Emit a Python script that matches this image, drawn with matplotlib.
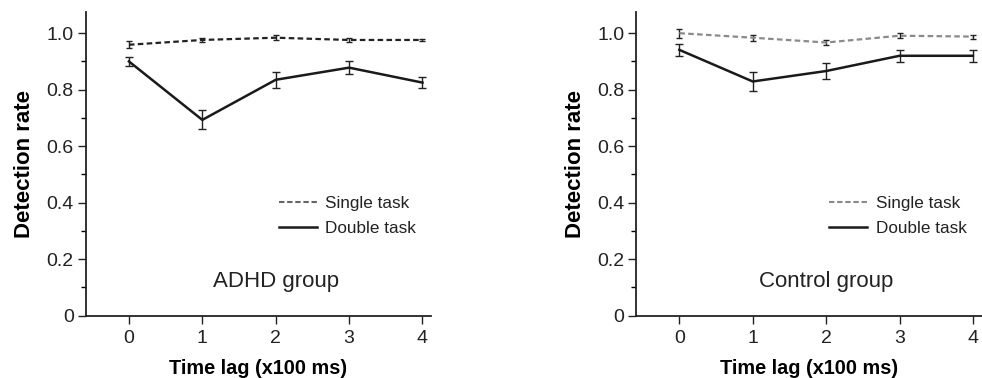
import numpy as np
import matplotlib.pyplot as plt
from matplotlib.lines import Line2D

plt.rcParams['font.family'] = ['Liberation Sans', 'DejaVu Sans']

# ---- data ----
lags = [0, 1, 2, 3, 4]

adhd_single = [0.959, 0.976, 0.984, 0.976, 0.976]
adhd_single_err = [0.013, 0.008, 0.008, 0.006, 0.005]
adhd_double = [0.900, 0.693, 0.835, 0.878, 0.825]
adhd_double_err = [0.015, 0.034, 0.028, 0.023, 0.020]

ctrl_single = [1.000, 0.984, 0.967, 0.991, 0.988]
ctrl_single_err = [0.016, 0.011, 0.010, 0.008, 0.007]
ctrl_double = [0.941, 0.829, 0.866, 0.920, 0.920]
ctrl_double_err = [0.021, 0.032, 0.027, 0.022, 0.021]

yticks = [0, 0.2, 0.4, 0.6, 0.8, 1.0]
yticklabels = ['0', '0.2', '0.4', '0.6', '0.8', '1.0']

fig = plt.figure(figsize=(9.82, 3.78), dpi=100)
ax1 = fig.add_axes([0.0872, 0.165, 0.352, 0.804])
ax2 = fig.add_axes([0.6477, 0.165, 0.352, 0.804])

panels = [
    (ax1, adhd_single, adhd_single_err, adhd_double, adhd_double_err, '#222222', '#666666', 'ADHD group'),
    (ax2, ctrl_single, ctrl_single_err, ctrl_double, ctrl_double_err, '#8a8a8a', '#8a8a8a', 'Control group'),
]

dash = (0, (2.5, 1.5))

for ax, s, se, d, de, scol, lcol, title in panels:
    ax.errorbar(lags, s, yerr=se, color=scol, ls=dash, lw=1.6,
                capsize=2.0, elinewidth=1.0, ecolor='#222222', capthick=1.0)
    ax.errorbar(lags, d, yerr=de, color='#1a1a1a', ls='-', lw=1.8,
                capsize=3, elinewidth=1.0, ecolor='#222222', capthick=1.0)

    ax.set_xlim(-0.59, 4.12)
    ax.set_ylim(0, 1.076)
    ax.set_xticks(lags)
    ax.set_yticks(yticks)
    ax.set_yticklabels(yticklabels)
    ax.set_yticks([0.1, 0.3, 0.5, 0.7, 0.9], minor=True)
    ax.tick_params(axis='both', which='major', direction='out', length=5.5,
                   width=1.0, labelsize=14, pad=3, color='#222222', labelcolor='#222222')
    ax.tick_params(axis='x', which='major', pad=4.5)
    ax.tick_params(axis='y', which='minor', direction='out', length=3.6, width=1.0)
    for sp in ['top', 'right']:
        ax.spines[sp].set_visible(False)
    for sp in ['left', 'bottom']:
        ax.spines[sp].set_linewidth(1.3)
        ax.spines[sp].set_color('#222222')

    ax.set_xlabel('Time lag (x100 ms)', fontsize=14.3, fontweight='bold', labelpad=9)
    ax.set_ylabel('Detection rate', fontsize=16, fontweight='bold', labelpad=8)
    ax.text(2.0, 0.12, title, ha='center', va='center', fontsize=16, color='#222222')

    handles = [Line2D([], [], color=lcol, ls=(0, (2.6, 1.3)), lw=1.5),
               Line2D([], [], color='#1a1a1a', ls='-', lw=1.8)]
    ax.legend(handles, ['Single task', 'Double task'], loc='upper left',
              bbox_to_anchor=(0.515, 0.443), frameon=False,
              fontsize=12.3, handlelength=2.2, handletextpad=0.5, labelspacing=0.55,
              labelcolor='#222222')

fig.savefig('out.png', dpi=100)
